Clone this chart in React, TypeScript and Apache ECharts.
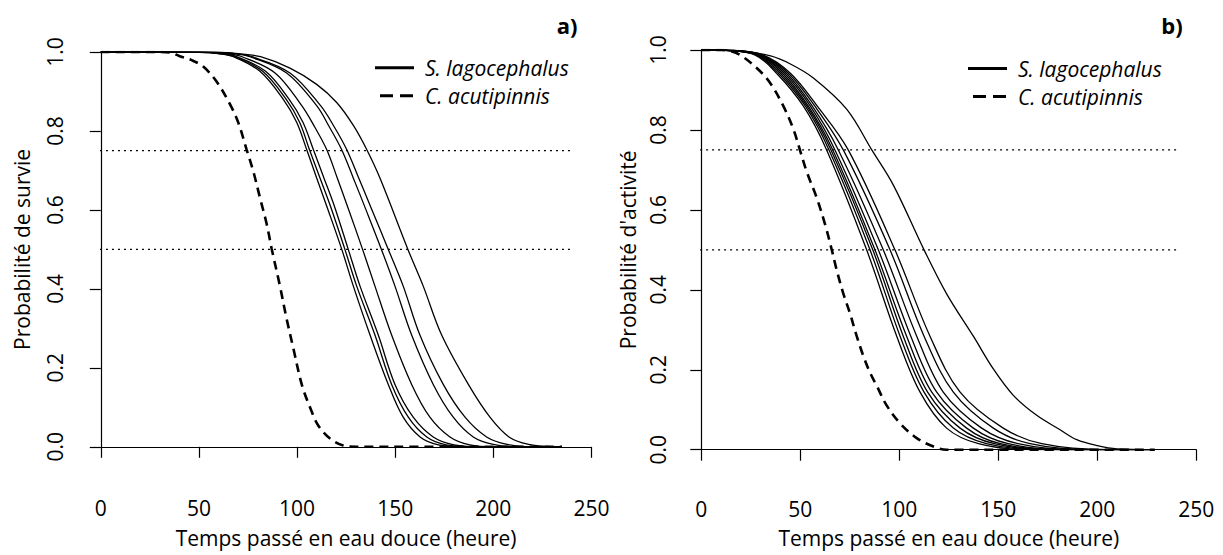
import React, { useEffect, useRef } from "react";
import * as echarts from "echarts";

// ---------- DATA (hours, probability) ----------
// Panel a) survival probability
const survieCacu: number[][] = [[0,1],[30,1],[36,0.998],[40,0.99],[46,0.98],[52.2,0.963],[59,0.925],[65.8,0.868],[70,0.822],[74.3,0.753],[77.7,0.698],[81.1,0.631],[84.5,0.565],[87.1,0.501],[91.3,0.407],[94.7,0.324],[98.1,0.25],[102.4,0.158],[106.6,0.1],[110.8,0.054],[116.8,0.021],[123.6,0.003],[130,0],[235,0]];
const survieS1: number[][] = [[0,1],[50,0.999],[60,0.996],[67.5,0.988],[81.1,0.951],[93,0.88],[99.8,0.822],[104.9,0.753],[110,0.681],[115.1,0.61],[122.8,0.5],[128.7,0.407],[137.2,0.283],[146.5,0.158],[154.1,0.075],[162.7,0.025],[172,0.005],[185,0],[235,0]];
const survieS2: number[][] = [[0,1],[50,0.999],[60,0.996],[68.5,0.988],[82.5,0.951],[94.5,0.88],[101.3,0.822],[106.3,0.753],[111.7,0.681],[117,0.61],[124.4,0.5],[130.4,0.407],[139.7,0.283],[148.2,0.158],[156.7,0.075],[166.1,0.025],[176,0.005],[190,0],[235,0]];
const survieS3: number[][] = [[0,1],[52,0.999],[62,0.996],[69.5,0.988],[84,0.951],[96,0.88],[103,0.822],[108.3,0.753],[113.7,0.681],[119,0.61],[126.1,0.5],[132.1,0.407],[141.4,0.283],[149.9,0.158],[159.2,0.075],[169.4,0.025],[180,0.005],[195,0],[235,0]];
const survieS4: number[][] = [[0,1],[55,0.999],[64,0.996],[72,0.988],[88.8,0.947],[102.4,0.864],[109,0.81],[115.1,0.753],[120.5,0.681],[126,0.605],[133.4,0.5],[139.7,0.407],[148.2,0.283],[158.4,0.158],[167.7,0.075],[177.9,0.025],[188,0.005],[200,0],[235,0]];
const survieS5: number[][] = [[0,1],[58,0.999],[68,0.996],[76,0.988],[94.7,0.947],[110,0.864],[116.5,0.81],[122.7,0.753],[128.5,0.683],[135,0.602],[143,0.5],[149.9,0.407],[158.4,0.283],[169.4,0.158],[179.6,0.075],[189.8,0.025],[200,0.006],[212,0],[235,0]];
const survieS6: number[][] = [[0,1],[58,0.999],[68,0.996],[77,0.988],[96.4,0.947],[112,0.864],[119,0.81],[125.3,0.753],[131,0.686],[137.5,0.608],[146.5,0.5],[154.1,0.407],[162.6,0.283],[174.5,0.158],[185.6,0.075],[196.6,0.025],[207,0.006],[218,0],[235,0]];
const survieS7: number[][] = [[0,1],[60,0.999],[70,0.996],[81.4,0.988],[96.4,0.959],[110,0.918],[120.2,0.872],[128.7,0.814],[135.5,0.753],[142.3,0.68],[156.5,0.5],[164.3,0.407],[173.7,0.283],[187.3,0.158],[198.3,0.075],[208,0.025],[218,0.006],[228,0.001],[235,0]];

// Panel b) activity probability
const activCacu: number[][] = [[0,1],[10,1],[15,0.997],[19.5,0.988],[28,0.955],[34.7,0.918],[41.4,0.86],[46.5,0.802],[49.8,0.75],[53.2,0.696],[58.3,0.63],[62.5,0.564],[65.9,0.5],[68.4,0.449],[71.7,0.391],[75.1,0.341],[78.5,0.284],[81.8,0.235],[85.2,0.193],[88.6,0.16],[93.6,0.111],[100.4,0.066],[108.8,0.029],[117.2,0.008],[124,0],[229,0]];
const activS1: number[][] = [[0,1],[12,0.999],[27,0.988],[38,0.942],[51.5,0.86],[63.3,0.75],[83.5,0.5],[98.7,0.284],[110.5,0.144],[123.9,0.054],[140,0.015],[165,0],[229,0]];
const activS2: number[][] = [[0,1],[12,0.999],[27.5,0.988],[39,0.942],[52.5,0.86],[64.5,0.75],[85.2,0.5],[100.4,0.284],[112.5,0.144],[127.3,0.054],[144,0.015],[170,0],[229,0]];
const activS3: number[][] = [[0,1],[12,0.999],[28,0.988],[40,0.942],[53.3,0.86],[65.5,0.75],[86.6,0.5],[102,0.284],[114.3,0.144],[130.7,0.054],[148,0.015],[175,0],[229,0]];
const activS4: number[][] = [[0,1],[13,0.999],[28.5,0.988],[41,0.942],[54,0.86],[66.4,0.75],[87.7,0.5],[103.7,0.284],[116.4,0.144],[134,0.054],[151,0.015],[180,0],[229,0]];
const activS5: number[][] = [[0,1],[13,0.999],[29,0.988],[42,0.942],[55,0.86],[67.5,0.75],[89.4,0.5],[105.8,0.284],[118.9,0.144],[137.4,0.054],[155,0.015],[185,0],[229,0]];
const activS6: number[][] = [[0,1],[14,0.999],[29.5,0.988],[43,0.942],[56,0.86],[69.2,0.75],[91.9,0.5],[108.8,0.284],[122.2,0.144],[141.6,0.054],[160,0.015],[190,0],[229,0]];
const activS7: number[][] = [[0,1],[14,0.999],[30,0.988],[44,0.942],[57.3,0.86],[71.7,0.75],[95.3,0.5],[112.5,0.284],[127.3,0.144],[147.5,0.054],[166,0.015],[198,0],[229,0]];
const activS8: number[][] = [[0,1],[15,0.999],[31,0.988],[45,0.942],[58.5,0.86],[74.2,0.75],[97.8,0.5],[115.5,0.284],[130.7,0.144],[152.5,0.054],[172,0.015],[205,0],[229,0]];
const activS9: number[][] = [[0,1],[20,0.998],[35,0.985],[45,0.965],[56.6,0.93],[73.4,0.852],[86.1,0.75],[97,0.662],[112.5,0.5],[123.9,0.39],[137.4,0.284],[147.5,0.202],[157.6,0.136],[169.4,0.086],[181.2,0.05],[189.6,0.025],[200,0.01],[210,0.002],[229,0]];

// Reference levels and their horizontal span (hours)
const refLevels = [0.75, 0.5];
const refSpanA = [-9.6, 240.6];
const refSpanB = [-9.7, 241.7];

const xTicksMax = 250;
const yTitles = ["Probabilité de survie", "Probabilité d'activité"];
const xTitle = "Temps passé en eau douce (heure)";
const legendLabels = ["S. lagocephalus", "C. acutipinnis"];
const panelLabels = ["a)", "b)"];

const FONT = "'Open Sans', 'DejaVu Sans', sans-serif";

export default function App() {
  const ref = useRef<HTMLDivElement>(null);
  useEffect(() => {
    if (!ref.current) return;
    const chart = echarts.init(ref.current, undefined, { renderer: "svg" });

    const solidA = [survieS1, survieS2, survieS3, survieS4, survieS5, survieS6, survieS7];
    const solidB = [activS1, activS2, activS3, activS4, activS5, activS6, activS7, activS8, activS9];

    const curve = (data: number[][], idx: number, dashed: boolean) => ({
      type: "line",
      xAxisIndex: idx,
      yAxisIndex: idx,
      data,
      symbol: "none",
      showSymbol: false,
      smooth: 0.35,
      silent: true,
      z: dashed ? 3 : 4,
      lineStyle: dashed
        ? { color: "#000", width: 2.6, type: [9, 6] }
        : { color: "#000", width: 1.3, type: "solid" },
    });

    const refLine = (level: number, span: number[], idx: number) => ({
      type: "line",
      xAxisIndex: idx,
      yAxisIndex: idx,
      data: [[span[0], level], [span[1], level]],
      symbol: "none",
      showSymbol: false,
      clip: false,
      silent: true,
      z: 2,
      lineStyle: { color: "#000", width: 1.2, type: [2, 4] },
    });

    const series: any[] = [];
    refLevels.forEach((l) => series.push(refLine(l, refSpanA, 0)));
    refLevels.forEach((l) => series.push(refLine(l, refSpanB, 1)));
    series.push(curve(survieCacu, 0, true));
    solidA.forEach((d) => series.push(curve(d, 0, false)));
    series.push(curve(activCacu, 1, true));
    solidB.forEach((d) => series.push(curve(d, 1, false)));

    const textStyle = { color: "#000", fontFamily: FONT, fontSize: 21, lineHeight: 24 };

    const xAxis = (idx: number, offset: number, margin: number) => ({
      type: "value",
      gridIndex: idx,
      min: 0,
      max: xTicksMax,
      interval: 50,
      offset,
      name: xTitle,
      nameLocation: "middle",
      nameGap: 52,
      nameTextStyle: { ...textStyle },
      axisLine: { show: true, lineStyle: { color: "#000", width: 1.2 } },
      axisTick: { show: true, length: 11, lineStyle: { color: "#000", width: 1.2 } },
      axisLabel: { ...textStyle, margin },
      splitLine: { show: false },
    });

    const yAxis = (idx: number, offset: number, margin: number, nameGap: number) => ({
      type: "value",
      gridIndex: idx,
      min: 0,
      max: 1,
      interval: 0.2,
      offset,
      name: yTitles[idx],
      nameLocation: "middle",
      nameGap,
      nameRotate: 90,
      nameTextStyle: { ...textStyle },
      axisLine: { show: true, lineStyle: { color: "#000", width: 1.2 } },
      axisTick: { show: true, length: 11, lineStyle: { color: "#000", width: 1.2 } },
      axisLabel: { ...textStyle, margin, rotate: 90, formatter: (v: number) => v.toFixed(1) },
      splitLine: { show: false },
    });

    const legend = (x0: number, y0: number) => [
      { type: "line", shape: { x1: x0, y1: y0, x2: x0 + 39, y2: y0 }, style: { stroke: "#000", lineWidth: 3 } },
      { type: "line", shape: { x1: x0 + 5, y1: y0 + 28, x2: x0 + 39, y2: y0 + 28 }, style: { stroke: "#000", lineWidth: 3, lineDash: [13, 7] } },
      { type: "text", x: x0 + 50, y: y0, style: { text: legendLabels[0], fill: "#000", fontFamily: FONT, fontSize: 21, fontStyle: "italic", verticalAlign: "middle", align: "left" } },
      { type: "text", x: x0 + 50, y: y0 + 28, style: { text: legendLabels[1], fill: "#000", fontFamily: FONT, fontSize: 21, fontStyle: "italic", verticalAlign: "middle", align: "left" } },
    ];

    chart.setOption({
      animation: false,
      backgroundColor: "#fff",
      textStyle: { fontFamily: FONT },
      grid: [
        { left: 100.8, top: 52, width: 490.6, height: 401.5 },
        { left: 701.3, top: 50, width: 495, height: 405 },
      ],
      xAxis: [xAxis(0, 27.2, 21.5), xAxis(1, 24.3, 23)],
      yAxis: [yAxis(0, 20.3, 14, 47), yAxis(1, 20.6, 11, 40.5)],
      series,
      graphic: [
        ...legend(375, 67.7),
        ...legend(968, 68.5),
        { type: "text", x: 567, y: 25, style: { text: panelLabels[0], fill: "#000", fontFamily: FONT, fontSize: 22, fontWeight: "bold", align: "center", verticalAlign: "middle" } },
        { type: "text", x: 1172, y: 25, style: { text: panelLabels[1], fill: "#000", fontFamily: FONT, fontSize: 22, fontWeight: "bold", align: "center", verticalAlign: "middle" } },
      ],
    });
    return () => chart.dispose();
  }, []);
  return (
    <div
      ref={ref}
      style={{ position: "fixed", left: 0, top: 0, width: 1223, height: 555, background: "#fff" }}
    />
  );
}
